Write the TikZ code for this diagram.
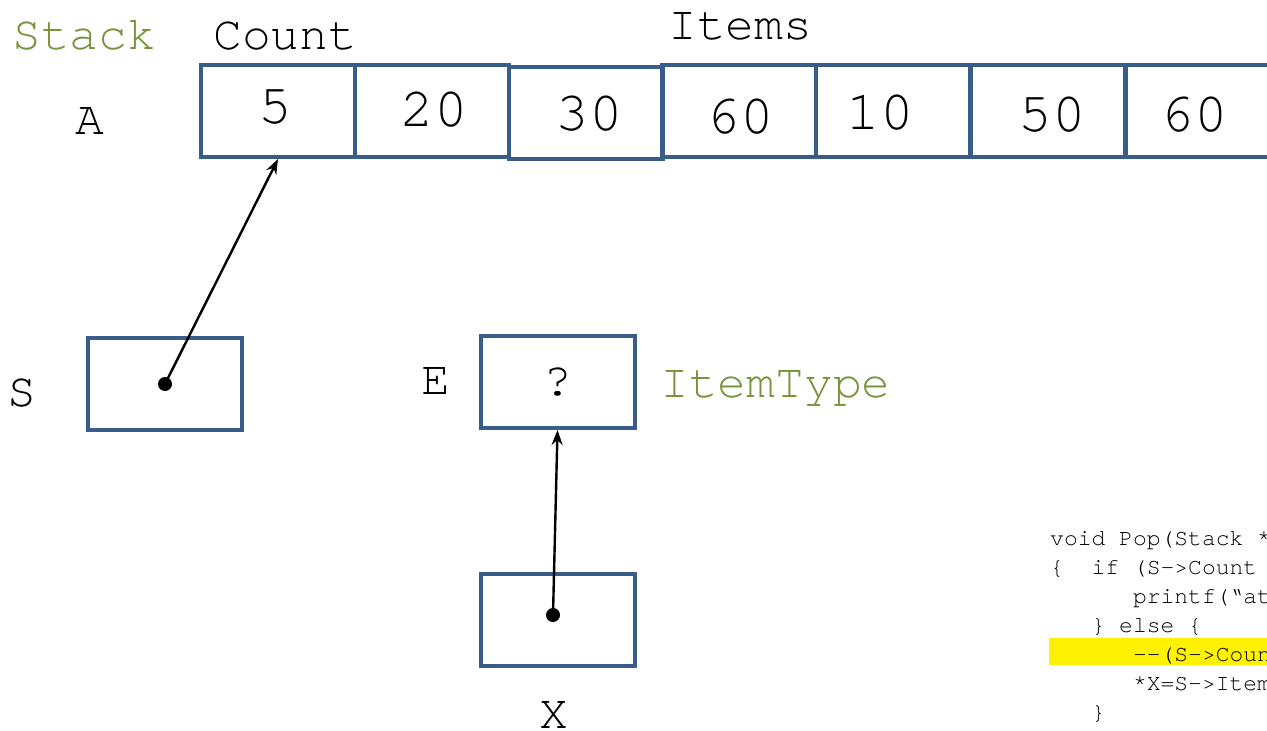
\documentclass[tikz,border=0pt]{standalone}
\usepackage{fontspec}
\usepackage{tikz}
\usetikzlibrary{arrows.meta}
\newfontfamily\cour{TeX Gyre Cursor}
\definecolor{boxblue}{RGB}{56,93,138}
\definecolor{typegreen}{RGB}{119,147,60}
\tikzset{
	cell/.style={draw=boxblue, line width=4pt, minimum width=154pt, minimum height=92pt, inner sep=0pt},
	num/.style={font=\cour\fontsize{56}{62}\selectfont, inner sep=0pt},
	bigtext/.style={font=\cour\fontsize{48}{54}\selectfont, inner sep=0pt},
	codeline/.style={font=\cour\fontsize{23}{27}\selectfont, inner sep=0pt, anchor=base west},
	ptrdot/.style={circle, fill=black, inner sep=0pt, minimum size=14pt},
	ptr/.style={-{Stealth[length=15pt,width=11pt]}, line width=2.4pt}
}
\begin{document}
\begin{tikzpicture}[x=1pt, y=-1pt]
				\useasboundingbox (0,0) rectangle (1267,731);
				\clip (0,0) rectangle (1267,731);
				\node[bigtext, anchor=base west, text=typegreen] (stack) at (12,49) {Stack};
				\node[bigtext, anchor=base west] (count) at (213,49) {Count};
				\node[bigtext, anchor=base west] (items) at (668,39) {Items};
				\node[bigtext, anchor=base] (A) at (90,134) {A};
				\foreach \i/\x/\y/\tx/\ty/\v in {1/278/111/275.5/107/5, 2/432/111/434/109.5/20, 3/585.5/112.5/589/114/30, 4/738.5/111/740/116.5/60, 5/892.5/110.5/880/112.5/10, 6/1048/111/1052.5/114.5/50, 7/1203/111/1194/115/60}{
					\node[cell] (c\i) at (\x,\y) {};
					\node[num] (n\i) at (\tx,\ty) {\v};
				}
				\node[cell] (sbox) at (165,384) {};
				\node[bigtext, anchor=base] (S) at (22,406) {S};
				\node[ptrdot] (sdot) at (165,384) {};
				\draw[ptr] (sdot.center) -- (c1.south);
				\node[cell, font=\cour\fontsize{48}{54}\selectfont] (ebox) at (557.5,382) {?};
				\node[bigtext, anchor=base] (E) at (436,394) {E};
				\node[bigtext, anchor=base west, text=typegreen] (itemtype) at (660,397) {ItemType};
				\node[cell] (xbox) at (557.5,619.5) {};
				\node[bigtext, anchor=base] (X) at (554,728) {X};
				\node[ptrdot] (xdot) at (553,615) {};
				\draw[ptr] (xdot.center) -- (ebox.south);
				\fill[yellow] (1049,638) rectangle (1267,665);
				\node[codeline] (l1) at (1050,545) {void Pop(Stack *S, ItemType *X)};
				\node[codeline] (l2) at (1050,574) {\{\ \ if (S->Count == 0) \{};
				\node[codeline] (l3) at (1050,603) {\ \ \ \ \ \ printf(“attempt to pop an empty stack”);};
				\node[codeline] (l4) at (1050,632) {\ \ \ \} else \{};
				\node[codeline] (l5) at (1050,661) {\ \ \ \ \ \ --(S->Count);};
				\node[codeline] (l6) at (1050,690) {\ \ \ \ \ \ *X=S->Items[S->Count];};
				\node[codeline] (l7) at (1050,719) {\ \ \ \}};
				\node[codeline] (l8) at (1050,748) {\}};
\end{tikzpicture}
\end{document}
